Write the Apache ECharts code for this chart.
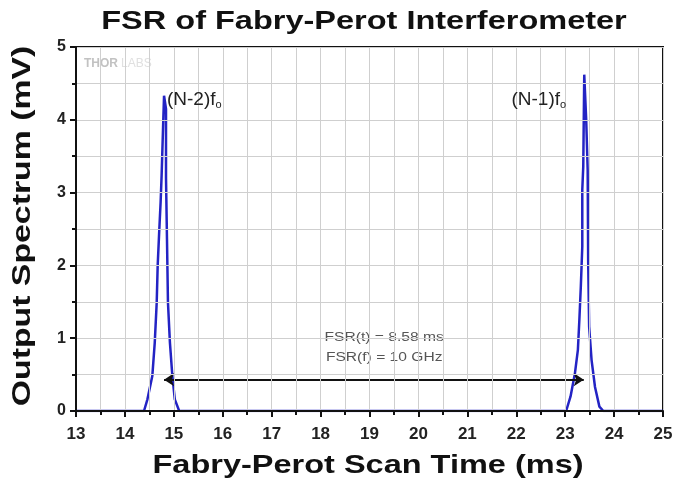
<!DOCTYPE html>
<html>
<head>
<meta charset="utf-8">
<script src="https://cdn.jsdelivr.net/npm/echarts@6/dist/echarts.min.js"></script>
<style>
  html, body { margin: 0; padding: 0; background: #fff; }
  #chart { width: 677px; height: 484px; }
</style>
</head>
<body>
<div id="chart"></div>
<script>
// scan time (ms) / output (mV)
const scanTime = [13, 14.39, 14.46, 14.56, 14.61, 14.65, 14.67, 14.70, 14.73, 14.75, 14.78, 14.80, 14.84, 14.84, 14.86, 14.88, 14.92, 14.97, 15.02, 15.11,
  23.02, 23.11, 23.20, 23.26, 23.29, 23.32, 23.35, 23.35, 23.37, 23.39, 23.43, 23.46, 23.47, 23.49, 23.54, 23.61, 23.70, 23.78, 25];
const outputMv = [0, 0, 0.16, 0.48, 0.94, 1.49, 2.0, 2.45, 2.87, 3.23, 3.9, 4.33, 4.15, 3.2, 2.36, 1.49, 0.94, 0.48, 0.16, 0,
  0, 0.2, 0.52, 0.84, 1.25, 1.71, 2.26, 3.04, 3.36, 4.62, 4.0, 3.31, 2.07, 1.16, 0.7, 0.33, 0.06, 0, 0];

const xTicks = [13, 25];
const yTicks = [0, 5];

// FSR arrow between the two peaks
const arrowX = [14.80, 23.38];
const arrowY = 0.43;
const peakLabels = ['(N-2)f{s|o}', '(N-1)f{s|o}'];
const peakLabelAt = [[14.86, 4.27], [23.02, 4.27]];
const fsrText = ['FSR(t) = 8.58 ms', 'FSR(f) = 10 GHz'];
const fsrTextAt = [19.3, 0.87];

const chart = echarts.init(document.getElementById('chart'));

// the original type is stretched sideways, so the big texts are scaled graphics
function wideText (text, x, y, size, sx, rot) {
  return {
    type: 'text',
    x, y,
    rotation: rot || 0,
    scaleX: sx,
    style: {
      text,
      fill: '#111',
      font: 'bold ' + size + 'px Liberation Sans',
      align: 'center',
      verticalAlign: 'middle'
    }
  };
}

const option = {
  animation: false,
  grid: {left: 76, right: 14, top: 47, bottom: 73, show: true, borderColor: '#111', borderWidth: 2},
  xAxis: {
    type: 'value',
    min: xTicks[0],
    max: xTicks[1],
    interval: 1,
    z: 5,
    axisLine: {lineStyle: {color: '#111', width: 2}},
    axisTick: {length: 6, lineStyle: {color: '#111', width: 2}},
    minorTick: {show: true, splitNumber: 2, length: 4, lineStyle: {color: '#111', width: 2}},
    axisLabel: {fontFamily: 'Liberation Sans', fontWeight: 'bold', fontSize: 17, color: '#222', margin: 15},
    splitLine: {lineStyle: {color: '#cfcfcf', width: 1}},
    minorSplitLine: {show: true, lineStyle: {color: '#cfcfcf', width: 1}}
  },
  yAxis: {
    type: 'value',
    min: yTicks[0],
    max: yTicks[1],
    interval: 1,
    z: 5,
    axisLine: {show: true, lineStyle: {color: '#111', width: 2}},
    axisTick: {show: true, length: 6, lineStyle: {color: '#111', width: 2}},
    minorTick: {show: true, splitNumber: 2, length: 4, lineStyle: {color: '#111', width: 2}},
    axisLabel: {fontFamily: 'Liberation Sans', fontWeight: 'bold', fontSize: 16, color: '#222', margin: 10},
    splitLine: {lineStyle: {color: '#cfcfcf', width: 1}},
    minorSplitLine: {show: true, lineStyle: {color: '#cfcfcf', width: 1}}
  },
  series: [{
    type: 'line',
    data: scanTime.map((t, i) => [t, outputMv[i]]),
    symbol: 'none',
    lineStyle: {color: '#2323c4', width: 2.5},
    z: 3,
    markPoint: {
      symbol: 'circle',
      symbolSize: 0,
      data: peakLabels.map((txt, i) => ({
        coord: peakLabelAt[i],
        label: {
          show: true,
          formatter: txt,
          position: i == 0 ? 'right' : 'left',
          distance: 0,
          fontFamily: 'Liberation Sans',
          fontSize: 19,
          color: '#222',
          rich: {s: {fontSize: 11, padding: [10, 0, 0, 0], color: '#222'}}
        }
      }))
    }
  }, {
    type: 'lines',
    coordinateSystem: 'cartesian2d',
    symbol: ['arrow', 'arrow'],
    symbolSize: 10,
    lineStyle: {color: '#111', width: 2, opacity: 1},
    z: 4,
    data: [{coords: [[arrowX[0], arrowY], [arrowX[1], arrowY]]}]
  }]
};

chart.setOption(option);

const fsrPos = chart.convertToPixel({gridIndex: 0}, fsrTextAt);
chart.setOption({
  graphic: [
    wideText('FSR of Fabry-Perot Interferometer', 364, 22, 26, 1.25),
    wideText('Fabry-Perot Scan Time (ms)', 368, 466, 26, 1.25),
    wideText('Output Spectrum (mV)', 23, 226, 26, 1.3, Math.PI / 2),
    {
      type: 'text', x: 84, y: 58,
      style: {text: 'THOR', fill: '#c2c2c2', font: 'bold 12px Liberation Sans'}
    },
    {
      type: 'text', x: 121, y: 58,
      style: {text: 'LABS', fill: '#e0e0e0', font: '12px Liberation Sans'}
    },
    {
      type: 'text',
      x: fsrPos[0], y: fsrPos[1],
      scaleX: 1.3,
      style: {
        text: fsrText.join('\n'),
        fill: '#555',
        font: '12px Liberation Sans',
        lineHeight: 20,
        align: 'center',
        verticalAlign: 'middle'
      }
    }
  ]
});
</script>
</body>
</html>
